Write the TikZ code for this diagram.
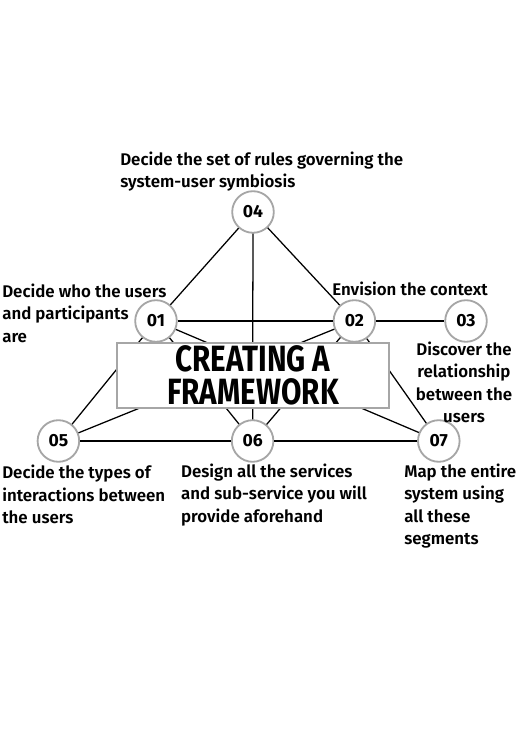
\documentclass[tikz,border=0pt]{standalone}
\usepackage{fontspec}
\setmainfont{Fira Sans}
\newfontfamily\titlefont{Fira Sans}[FakeStretch=0.81]
\newfontfamily\labelfont{Fira Sans SemiBold}
\usetikzlibrary{positioning}

\begin{document}
\begin{tikzpicture}[
    stage/.style={circle, draw=gray!70, line width=1.3pt, fill=white,
      minimum size=1.04cm, inner sep=0pt, font=\fontsize{12.5}{14}\selectfont\bfseries},
    link/.style={black, line width=0.9pt},
    note/.style={inner sep=0pt, font=\labelfont\fontsize{12}{16}\selectfont},
    titlebox/.style={draw=gray!70, line width=1.3pt, fill=white, minimum width=6.8cm,
      minimum height=1.62cm, inner sep=0pt, align=center,
      font=\titlefont\fontsize{26}{24}\selectfont\bfseries}]
  \useasboundingbox (0, 0) rectangle (13.125, 18.625);
  \node[stage] (s4) at (6.325, 13.325) {04};
  \node[stage] (s1) at (3.9, 10.6)     {01};
  \node[stage] (s2) at (8.86, 10.6)    {02};
  \node[stage] (s3) at (11.65, 10.6)   {03};
  \node[stage] (s5) at (1.46, 7.6)     {05};
  \node[stage] (s6) at (6.315, 7.6)    {06};
  \node[stage] (s7) at (10.97, 7.6)    {07};
  \draw[link] (s4) -- (s1);
  \draw[link] (s4) -- (s2);
  \draw[link] (s4) -- (s6);
  \draw[link] (s1) -- (s2);
  \draw[link] (s2) -- (s3);
  \draw[link] (s5) -- (s6);
  \draw[link] (s6) -- (s7);
  \draw[link] (s1) -- (s5);
  \draw[link] (s1) -- (s6);
  \draw[link] (s1) -- (s7);
  \draw[link] (s2) -- (s5);
  \draw[link] (s2) -- (s6);
  \draw[link] (s2) -- (s7);
  \node[titlebox] (title) at (6.325, 9.24) {CREATING A\\FRAMEWORK};
  \node[note, anchor=west, align=left] (n4) at (3.0, 14.34)
    {Decide the set of rules governing the\\system-user symbiosis};
  \node[note, anchor=west, align=left] (n1) at (0.05, 10.8)
    {Decide who the users\\and participants\\are};
  \node[note, anchor=west, align=left] (n2) at (8.3, 11.4) {Envision the context};
  \node[note, align=center] (n3) at (11.6, 9.06)
    {Discover the\\relationship\\between the\\users};
  \node[note, anchor=west, align=left] (n5) at (0.05, 6.26)
    {Decide the types of\\interactions between\\the users};
  \node[note, anchor=west, align=left] (n6) at (4.52, 6.26)
    {Design all the services\\and sub-service you will\\provide aforehand};
  \node[note, anchor=west, align=left] (n7) at (10.1, 5.975)
    {Map the entire\\system using\\all these\\segments};
\end{tikzpicture}
\end{document}
